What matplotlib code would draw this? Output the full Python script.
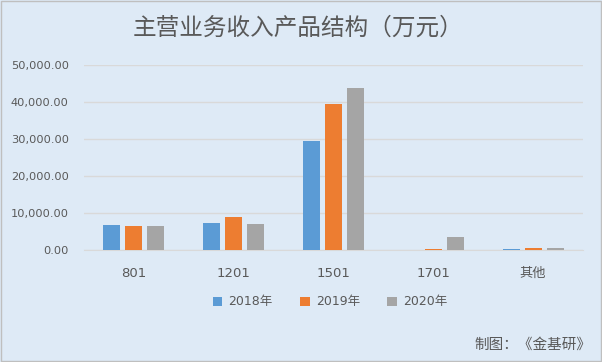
import numpy as np
import matplotlib.pyplot as plt
from matplotlib.ticker import FuncFormatter

plt.rcParams['font.family'] = ['DejaVu Sans', 'Noto Sans CJK SC']

categories = ["801", "1201", "1501", "1701", "其他"]
years = ["2018年", "2019年", "2020年"]
v2018 = [6800, 7300, 29500, 0, 250]
v2019 = [6500, 8900, 39500, 250, 500]
v2020 = [6500, 7000, 43800, 3500, 500]
colors = ["#5B9BD5", "#ED7D31", "#A5A5A5"]

bg = "#DEEAF6"
txt = "#595959"

fig = plt.figure(figsize=(6.02, 3.62), dpi=100, facecolor=bg)
ax = fig.add_axes([84 / 602, 1 - 250 / 362, 499 / 602, 185 / 362])
ax.set_facecolor(bg)

x = np.arange(len(categories))
w = 0.17
for i, (vals, lab) in enumerate(zip([v2018, v2019, v2020], years)):
    ax.bar(x + (i - 1) * 0.22, vals, w, color=colors[i], label=lab, zorder=3)

ax.set_xlim(-0.5, len(categories) - 0.5)
ax.set_ylim(0, 50000)
ax.set_yticks(np.arange(0, 50001, 10000))
ax.yaxis.set_major_formatter(FuncFormatter(lambda v, p: f"{v:,.2f}"))
ax.grid(axis="y", color="#D9D9D9", linewidth=1, zorder=0)
for s in ["top", "right", "left"]:
    ax.spines[s].set_visible(False)
ax.spines["bottom"].set_color("#D9D9D9")
ax.tick_params(axis="both", length=0, colors=txt, labelsize=8.2)
ax.tick_params(axis="y", pad=11)
ax.set_xticks(x)
ax.set_xticklabels(categories, fontsize=9.5, family=['DejaVu Sans', 'Noto Sans CJK SC'])
ax.tick_params(axis="x", pad=12)

fig.text(0.495, 1 - 28 / 362, "主营业务收入产品结构（万元）", ha="center", va="center",
         fontsize=17, color=txt, family=['Noto Sans CJK SC', 'DejaVu Sans'])

leg = fig.legend(loc="center", bbox_to_anchor=(330 / 602, 1 - 302 / 362), ncol=3,
                 frameon=False, fontsize=9, handlelength=0.75, handleheight=0.75,
                 columnspacing=2.2, handletextpad=0.5)
for t in leg.get_texts():
    t.set_color(txt)
    t.set_family(['DejaVu Sans', 'Noto Sans CJK SC'])

fig.text(591 / 602, 1 - 345 / 362, "制图：《金基研》", ha="right", va="center",
         fontsize=10.5, color=txt, family=['Noto Sans CJK SC', 'DejaVu Sans'])

fig.patches.append(plt.Rectangle((0.002, 0.003), 0.996, 0.994, transform=fig.transFigure,
                                 fill=False, edgecolor="#BFBFBF", linewidth=1))

fig.savefig("out.png", dpi=100, facecolor=bg)
